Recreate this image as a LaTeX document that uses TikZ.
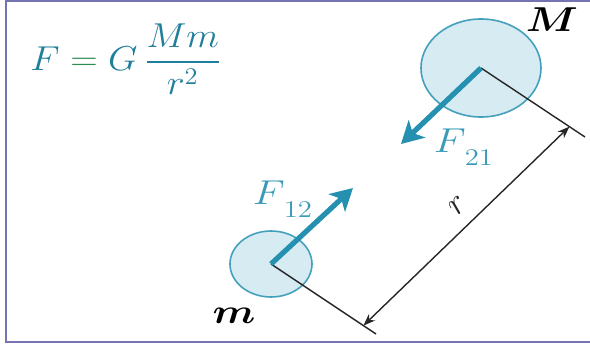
\documentclass[tikz,border=0pt]{standalone}
\usepackage{amsmath,amssymb}
\usepackage{tikz}
\usetikzlibrary{arrows.meta,positioning,calc,shapes.geometric}
\definecolor{gvFrame}{HTML}{7474B2}
\definecolor{gvTeal}{HTML}{1F7E9A}
\definecolor{gvLabel}{HTML}{3A9BB8}
\definecolor{gvArrow}{HTML}{2590B0}
\definecolor{gvEq}{HTML}{2E8B57}
\definecolor{gvFill}{HTML}{D6EBF2}
\definecolor{gvEdge}{HTML}{45A0BC}

\begin{document}
\begin{tikzpicture}[x=0.5pt, y=-0.5pt, every node/.style={font=\fontsize{17}{20}\selectfont},
  wide/.style={xscale=1.2},
  mass/.style={ellipse, draw=gvEdge, fill=gvFill, line width=0.8pt, inner sep=0pt},
  force/.style={gvArrow, line width=2.6pt, -{Stealth[length=11pt,width=12pt,inset=3pt]}},
  guide/.style={black!85, line width=0.7pt}]
  \useasboundingbox (0,0) rectangle (590,348);
  \draw[gvFrame, line width=1.2pt] (590,1) -- (6,1) -- (6,342) -- (590,342);
  \node[anchor=west, inner sep=0pt, text=gvTeal, xscale=1.1, font=\fontsize{16.5}{20}\selectfont] (law) at (30,59) {$F\mathrel{\textcolor{gvEq}{=}}G\,\dfrac{Mm}{r^2}$};
  \node[mass, minimum width=60pt, minimum height=49pt] (M) at (481,68) {};
  \node[mass, minimum width=41pt, minimum height=33pt] (m) at (271,264) {};
  \coordinate (tipA) at (401,144);
  \coordinate (tipB) at (353,188);
  \coordinate (endA) at (585,137);
  \coordinate (endB) at (376,334);
  \draw[guide] (M.center) -- (endA);
  \draw[guide] (m.center) -- (endB);
  \draw[force] (M.center) -- (tipA);
  \draw[force] (m.center) -- (tipB);
  \draw[guide, {Stealth[length=6pt,width=4.5pt]}-{Stealth[length=6pt,width=4.5pt]}]
    ($(m.center)!0.88!(endB)$) -- node[pos=0.53, sloped, above=3pt] (dist) {$r$} ($(M.center)!0.85!(endA)$);
  \node[wide] (lblM) at (552,20) {$\boldsymbol{M}$};
  \node[wide] (lblm) at (234,316) {$\boldsymbol{m}$};
  \node[wide, text=gvLabel] (lblA) at (464,147) {$F_{\,\lower4pt\hbox{$\scriptstyle 21$}}$};
  \node[wide, text=gvLabel] (lblB) at (283,199) {$F_{\,\lower4pt\hbox{$\scriptstyle 12$}}$};
\end{tikzpicture}
\end{document}
